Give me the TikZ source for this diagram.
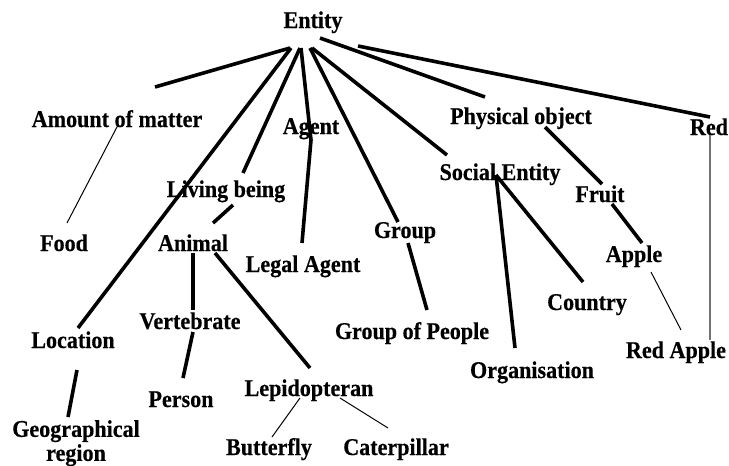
\documentclass[tikz,border=0pt]{standalone}
\usepackage{fontspec}
\setmainfont{Liberation Serif}
\newfontfamily\lblfont{Liberation Serif}[FakeStretch=0.92,BoldFeatures={FakeBold=0.4}]
\usepackage{tikz}

\begin{document}
\begin{tikzpicture}[x=1pt,y=-1pt,
  lbl/.style={anchor=base,inner sep=0pt,font=\lblfont\fontsize{24}{24}\selectfont\bfseries},
  thk/.style={black,line width=3.6pt},
  thn/.style={black,line width=1pt},
  gry/.style={black!55,line width=1.5pt}]
\useasboundingbox (0,0) rectangle (729,466);
\node[lbl] (ent) at (313,28) {Entity};
\node[lbl] (amt) at (117,127) {Amount of matter};
\node[lbl] (agt) at (311,134) {Agent};
\node[lbl] (liv) at (226,197) {Living being};
\node[lbl] (food) at (64,251) {Food};
\node[lbl] (ani) at (193,251) {Animal};
\node[lbl] (leg) at (303,272) {Legal Agent};
\node[lbl] (loc) at (73,348) {Location};
\node[lbl] (vert) at (190,329) {Vertebrate};
\node[lbl] (per) at (181,407) {Person};
\node[lbl] (lep) at (309,396) {Lepidopteran};
\node[lbl,anchor=north,align=center] (geo) at (76,420) {Geographical\\region};
\node[lbl] (but) at (269,455) {Butterfly};
\node[lbl] (cat) at (396,455) {Caterpillar};
\node[lbl] (phy) at (521,124) {Physical object};
\node[lbl] (red) at (709,135) {Red};
\node[lbl] (soc) at (500,180) {Social Entity};
\node[lbl] (fru) at (600,202) {Fruit};
\node[lbl] (grp) at (405,238) {Group};
\node[lbl] (app) at (634,262) {Apple};
\node[lbl] (cty) at (587,310) {Country};
\node[lbl] (gop) at (412,339) {Group of People};
\node[lbl] (org) at (532,378) {Organisation};
\node[lbl] (rap) at (676,358) {Red Apple};
% links from Entity
\draw[thk] ([shift={(-23,20)}]ent.base) -- ([shift={(38,-40)}]amt.base);
\draw[thk] ([shift={(-22,20)}]ent.base) -- ([shift={(5,-20)}]loc.base);
\draw[thk] ([shift={(-13,20)}]ent.base) -- ([shift={(17,-24)}]liv.base);
\draw[thk] ([shift={(-12,20)}]ent.base) -- ([shift={(0,6)}]agt.base);
\draw[thk] ([shift={(0,6)}]agt.base) -- ([shift={(-1,-29)}]leg.base);
\draw[thk] ([shift={(-3,20)}]ent.base) -- ([shift={(-7,-16)}]grp.base);
\draw[thk] ([shift={(-1,20)}]ent.base) -- ([shift={(-53,-25)}]soc.base);
\draw[thk] ([shift={(7,10)}]ent.base) -- ([shift={(-36,-27)}]phy.base);
\draw[thk] ([shift={(45,18)}]ent.base) -- ([shift={(1,-18)}]red.base);
% lower links
\draw[thn] ([shift={(1,-2)}]amt.base) -- ([shift={(3,-28)}]food.base);
\draw[thk] ([shift={(7,8)}]liv.base) -- ([shift={(20,-28)}]ani.base);
\draw[thk] ([shift={(0,2)}]ani.base) -- ([shift={(3,-19)}]vert.base);
\draw[thk] ([shift={(22,2)}]ani.base) -- ([shift={(1,-28)}]lep.base);
\draw[thk] ([shift={(3,3)}]vert.base) -- ([shift={(2,-29)}]per.base);
\draw[thk] ([shift={(4,22)}]loc.base) -- ([shift={(-8,-3)}]geo.north);
\draw[thn] ([shift={(-9,2)}]lep.base) -- ([shift={(3,-18)}]but.base);
\draw[thn] ([shift={(31,2)}]lep.base) -- ([shift={(-8,-27)}]cat.base);
\draw[thk] ([shift={(3,5)}]grp.base) -- ([shift={(15,-29)}]gop.base);
\draw[thk] ([shift={(-4,-5)}]soc.base) -- ([shift={(-17,-30)}]org.base);
\draw[thk] ([shift={(-4,-5)}]soc.base) -- ([shift={(-4,-28)}]cty.base);
\draw[thk] ([shift={(24,3)}]phy.base) -- ([shift={(2,-18)}]fru.base);
\draw[thk] ([shift={(12,2)}]fru.base) -- ([shift={(8,-19)}]app.base);
\draw[thn] ([shift={(17,10)}]app.base) -- ([shift={(5,-28)}]rap.base);
\draw[gry] ([shift={(1,0)}]red.base) -- ([shift={(34,-18)}]rap.base);
\end{tikzpicture}
\end{document}
